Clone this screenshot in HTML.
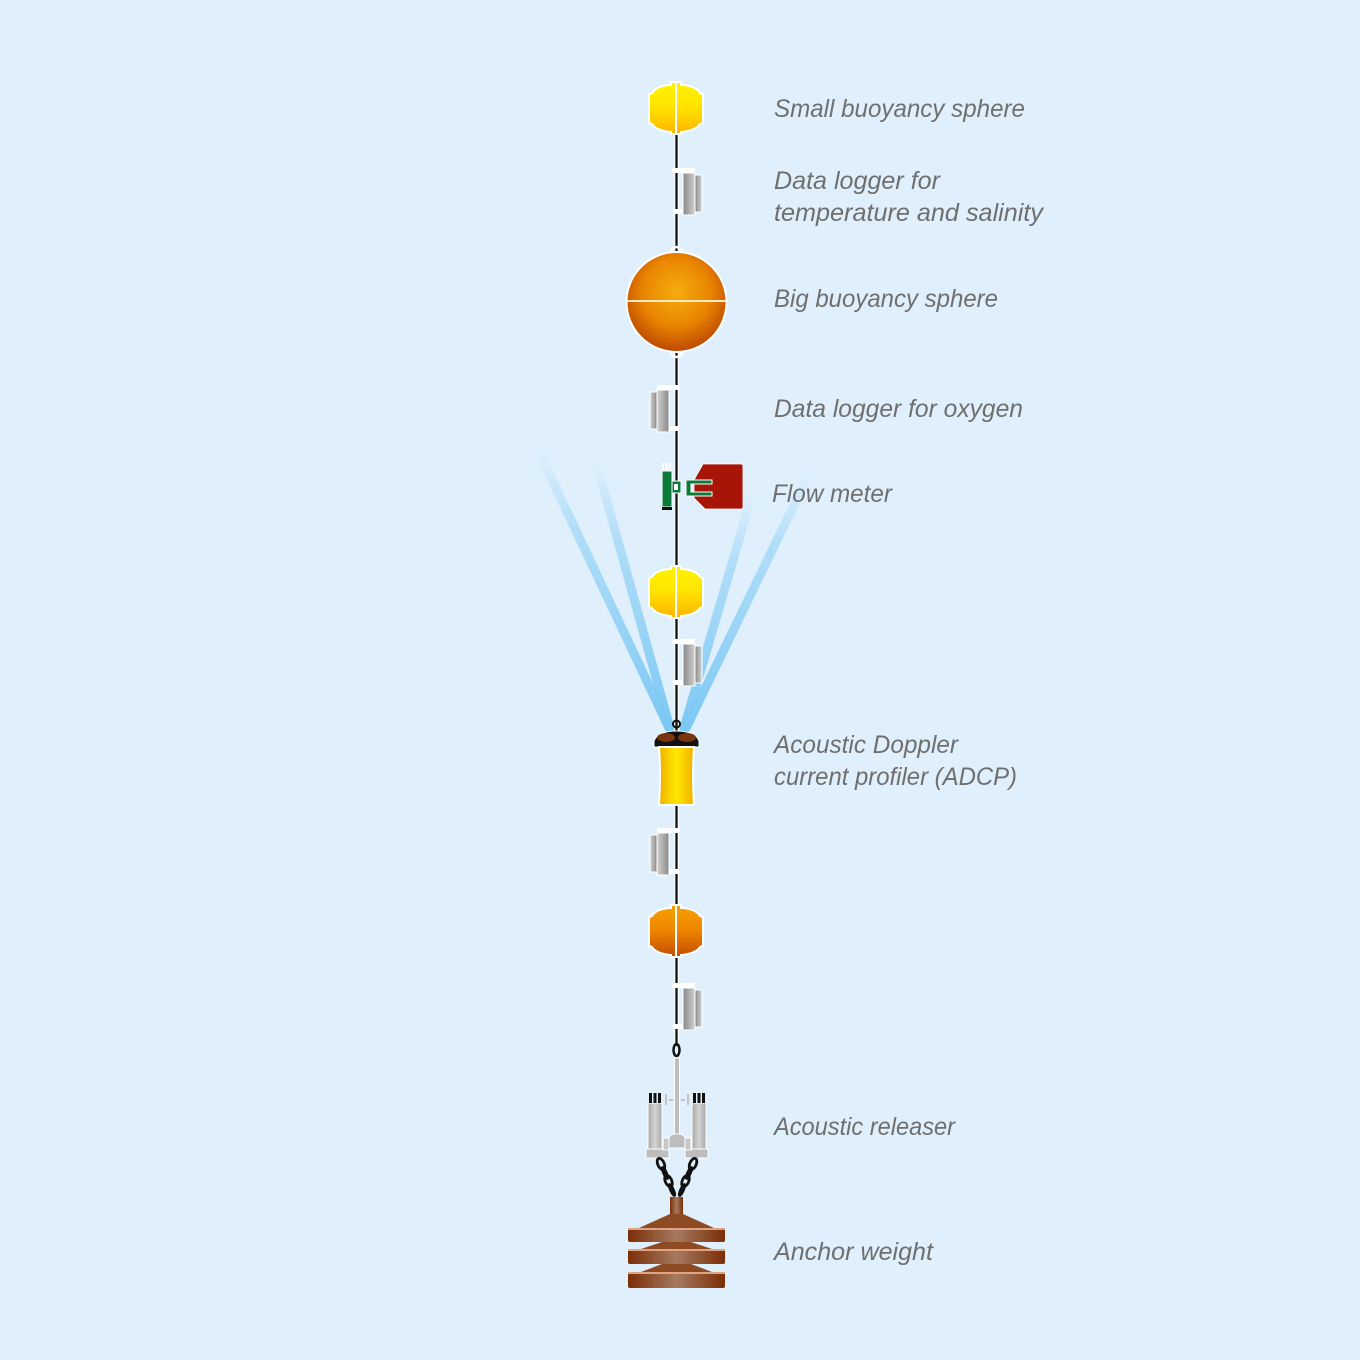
<!DOCTYPE html>
<html>
<head>
<meta charset="utf-8">
<style>
html,body{margin:0;padding:0;background:#dff0fc;}
svg{display:block;}
</style>
</head>
<body>
<svg width="1360" height="1360" viewBox="0 0 1360 1360" xmlns="http://www.w3.org/2000/svg">
<defs>
  <linearGradient id="yel" x1="0" y1="0" x2="0" y2="1">
    <stop offset="0" stop-color="#fff200"/>
    <stop offset="0.45" stop-color="#ffe600"/>
    <stop offset="1" stop-color="#ffb400"/>
  </linearGradient>
  <linearGradient id="org" x1="0" y1="0" x2="0" y2="1">
    <stop offset="0" stop-color="#f7a200"/>
    <stop offset="0.5" stop-color="#ee8400"/>
    <stop offset="1" stop-color="#c24c00"/>
  </linearGradient>
  <radialGradient id="big" cx="0.5" cy="0.4" r="0.62">
    <stop offset="0" stop-color="#f6ac10"/>
    <stop offset="0.55" stop-color="#e98400"/>
    <stop offset="1" stop-color="#b84300"/>
  </radialGradient>
  <linearGradient id="grayc" x1="0" y1="0" x2="1" y2="0">
    <stop offset="0" stop-color="#888888"/>
    <stop offset="1" stop-color="#d2d2d2"/>
  </linearGradient>
  <linearGradient id="adcp" x1="0" y1="0" x2="1" y2="0">
    <stop offset="0" stop-color="#f0b000"/>
    <stop offset="0.5" stop-color="#ffe800"/>
    <stop offset="1" stop-color="#f0b000"/>
  </linearGradient>
  <linearGradient id="brown" x1="0" y1="0" x2="1" y2="0">
    <stop offset="0" stop-color="#7b2e06"/>
    <stop offset="0.5" stop-color="#a57a60"/>
    <stop offset="1" stop-color="#7b2e06"/>
  </linearGradient>
  <linearGradient id="relg" x1="0" y1="0" x2="1" y2="0">
    <stop offset="0" stop-color="#a8a8a8"/>
    <stop offset="0.5" stop-color="#d4d4d4"/>
    <stop offset="1" stop-color="#a8a8a8"/>
  </linearGradient>
  <linearGradient id="b1" gradientUnits="userSpaceOnUse" x1="538" y1="450" x2="669" y2="728">
    <stop offset="0" stop-color="#8fd0f5" stop-opacity="0"/>
    <stop offset="0.3" stop-color="#8fd0f5" stop-opacity="0.6"/>
    <stop offset="1" stop-color="#7cc8f4" stop-opacity="1"/>
  </linearGradient>
  <linearGradient id="b2" gradientUnits="userSpaceOnUse" x1="596" y1="462" x2="670" y2="728">
    <stop offset="0" stop-color="#8fd0f5" stop-opacity="0"/>
    <stop offset="0.3" stop-color="#8fd0f5" stop-opacity="0.6"/>
    <stop offset="1" stop-color="#7cc8f4" stop-opacity="1"/>
  </linearGradient>
  <linearGradient id="b3" gradientUnits="userSpaceOnUse" x1="752" y1="495" x2="684" y2="728">
    <stop offset="0" stop-color="#8fd0f5" stop-opacity="0"/>
    <stop offset="0.3" stop-color="#8fd0f5" stop-opacity="0.6"/>
    <stop offset="1" stop-color="#7cc8f4" stop-opacity="1"/>
  </linearGradient>
  <linearGradient id="b4" gradientUnits="userSpaceOnUse" x1="810" y1="472" x2="686" y2="728">
    <stop offset="0" stop-color="#8fd0f5" stop-opacity="0"/>
    <stop offset="0.3" stop-color="#8fd0f5" stop-opacity="0.6"/>
    <stop offset="1" stop-color="#7cc8f4" stop-opacity="1"/>
  </linearGradient>
  <path id="sph" d="M-5,0 L5,0 L5,3 C15,3 22,7 24,11 L27,12 L27,41 L24,42 C22,46 15,49 5,50 L5,52 L-5,52 L-5,50 C-15,49 -22,46 -24,42 L-27,41 L-27,12 L-24,11 C-22,7 -15,3 -5,3 Z"/>
  <g id="logR">
    <rect x="7" y="5" width="12" height="42" fill="url(#grayc)" stroke="#ffffff" stroke-width="1"/>
    <rect x="19" y="7" width="7" height="37" fill="url(#grayc)" stroke="#ffffff" stroke-width="1"/>
    <rect x="-4" y="0" width="23" height="5" fill="#ffffff"/>
    <rect x="-3" y="41" width="10" height="5" fill="#ffffff"/>
  </g>
</defs>

<rect width="1360" height="1360" fill="#dff0fc"/>

<!-- ADCP beams -->
<g stroke-linecap="round" fill="none">
  <line x1="538" y1="450" x2="669" y2="728" stroke="url(#b1)" stroke-width="9"/>
  <line x1="596" y1="462" x2="670" y2="728" stroke="url(#b2)" stroke-width="9"/>
  <line x1="752" y1="495" x2="684" y2="728" stroke="url(#b3)" stroke-width="9"/>
  <line x1="810" y1="472" x2="686" y2="728" stroke="url(#b4)" stroke-width="9"/>
</g>

<!-- main mooring line -->
<line x1="676.5" y1="134" x2="676.5" y2="1046" stroke="#ffffff" stroke-width="4.5"/>
<line x1="676.5" y1="134" x2="676.5" y2="1046" stroke="#111111" stroke-width="2.3"/>

<!-- small yellow sphere 1 -->
<g transform="translate(676,82)">
  <use href="#sph" fill="url(#yel)" stroke="#ffffff" stroke-width="2"/>
  <line x1="0" y1="0" x2="0" y2="52" stroke="#ffffff" stroke-width="2"/>
</g>

<!-- logger 1 -->
<g transform="translate(676,168)"><use href="#logR"/></g>

<!-- big sphere -->
<path d="M671,253 A5.5,6 0 0 1 682,253" fill="none" stroke="#ffffff" stroke-width="2.5"/>
<path d="M671,351 A5.5,6 0 0 0 682,351" fill="none" stroke="#ffffff" stroke-width="2.5"/>
<circle cx="676.5" cy="302" r="50" fill="url(#big)" stroke="#ffffff" stroke-width="2"/>
<line x1="627" y1="301" x2="726" y2="301" stroke="#ffe9c0" stroke-width="2"/>

<!-- logger oxygen (left) -->
<g transform="translate(676,385) scale(-1,1)"><use href="#logR"/></g>

<!-- flow meter -->
<g>
  <rect x="662" y="463" width="2" height="8" fill="#ffffff"/>
  <rect x="665.5" y="463" width="2" height="8" fill="#ffffff"/>
  <rect x="669" y="463" width="2" height="8" fill="#ffffff"/>
  <rect x="662" y="471" width="10" height="36" fill="#0c7a3a" stroke="#ffffff" stroke-width="1"/>
  <rect x="662" y="507" width="10" height="3" fill="#111111"/>
  <path d="M703,464 L741,464 Q743,464 743,466 L743,507 Q743,509 741,509 L705,509 L694,498 L694,480 Z" fill="#a61508" stroke="#ffffff" stroke-width="0.8"/>
  <rect x="672" y="481" width="9" height="12" fill="#0c7a3a" stroke="#ffffff" stroke-width="1"/>
  <rect x="674" y="484" width="4" height="6" fill="#ffffff"/>
  <path d="M712,480 L686,480 L686,496 L712,496 L712,492 L691,492 L691,484 L712,484 Z" fill="#0c7a3a" stroke="#ffffff" stroke-width="1"/>
</g>

<!-- small yellow sphere 2 -->
<g transform="translate(676,566)">
  <use href="#sph" fill="url(#yel)" stroke="#ffffff" stroke-width="2"/>
  <line x1="0" y1="0" x2="0" y2="52" stroke="#ffffff" stroke-width="2"/>
</g>

<!-- logger 3 -->
<g transform="translate(676,639)"><use href="#logR"/></g>

<!-- ADCP -->
<g>
  <circle cx="676.5" cy="724" r="3.5" fill="none" stroke="#111111" stroke-width="2"/>
  <path d="M654,747 L654,741 C656,735 664,731 676.5,731 C689,731 697,735 699,741 L699,747 Z" fill="#111111" stroke="#ffffff" stroke-width="1"/>
  <ellipse cx="666" cy="737.5" rx="9" ry="4.5" fill="#7a3410"/>
  <ellipse cx="687" cy="737.5" rx="9" ry="4.5" fill="#7a3410"/>
  <path d="M659,747 L694,747 Q692,776 694,805 L659,805 Q661,776 659,747 Z" fill="url(#adcp)" stroke="#ffffff" stroke-width="2"/>
</g>

<!-- logger 4 (left) -->
<g transform="translate(676,828) scale(-1,1)"><use href="#logR"/></g>

<!-- orange small sphere -->
<g transform="translate(676,905)">
  <use href="#sph" fill="url(#org)" stroke="#ffffff" stroke-width="2"/>
  <line x1="0" y1="0" x2="0" y2="52" stroke="#ffffff" stroke-width="2"/>
</g>

<!-- logger 5 -->
<g transform="translate(676,983)"><use href="#logR"/></g>

<!-- shackle -->
<ellipse cx="676.5" cy="1050" rx="3" ry="6" fill="none" stroke="#111111" stroke-width="2.5"/>

<!-- acoustic releaser -->
<g stroke="#ffffff" stroke-width="1">
  <rect x="674.5" y="1058" width="5" height="80" fill="#bdbdbd"/>
  <polygon points="673,1134 681,1134 690,1141 690,1148 663,1148 663,1141" fill="#bdbdbd"/>
  <rect x="648" y="1103" width="14" height="48" fill="url(#relg)"/>
  <rect x="692" y="1103" width="14" height="48" fill="url(#relg)"/>
  <rect x="646" y="1149" width="23" height="9" fill="#bdbdbd"/>
  <rect x="685" y="1149" width="23" height="9" fill="#bdbdbd"/>
  <rect x="663" y="1138" width="6" height="12" fill="#c8c8c8"/>
  <rect x="685" y="1138" width="6" height="12" fill="#c8c8c8"/>
</g>
<g fill="#111111">
  <rect x="649" y="1093" width="3" height="10"/>
  <rect x="653.5" y="1093" width="3" height="10"/>
  <rect x="658" y="1093" width="3" height="10"/>
  <rect x="693" y="1093" width="3" height="10"/>
  <rect x="697.5" y="1093" width="3" height="10"/>
  <rect x="702" y="1093" width="3" height="10"/>
</g>
<g fill="#c4c4c4">
  <rect x="665" y="1094" width="2" height="11"/>
  <rect x="687" y="1094" width="2" height="11"/>
  <rect x="669" y="1099" width="4" height="2"/>
  <rect x="681" y="1099" width="4" height="2"/>
</g>

<!-- chains -->
<g fill="none" stroke="#111111" stroke-width="2.8">
  <ellipse cx="661" cy="1164" rx="6" ry="3.2" transform="rotate(66 661 1164)"/>
  <ellipse cx="665" cy="1173" rx="6" ry="1.3" transform="rotate(66 665 1173)"/>
  <ellipse cx="668.5" cy="1181" rx="6" ry="3.2" transform="rotate(66 668.5 1181)"/>
  <ellipse cx="672" cy="1190" rx="6" ry="1.3" transform="rotate(66 672 1190)"/>
  <ellipse cx="693" cy="1164" rx="6" ry="3.2" transform="rotate(114 693 1164)"/>
  <ellipse cx="689" cy="1173" rx="6" ry="1.3" transform="rotate(114 689 1173)"/>
  <ellipse cx="685.5" cy="1181" rx="6" ry="3.2" transform="rotate(114 685.5 1181)"/>
  <ellipse cx="682" cy="1190" rx="6" ry="1.3" transform="rotate(114 682 1190)"/>
</g>

<!-- anchor weight -->
<g>
  <rect x="670" y="1197" width="13" height="22" fill="url(#brown)"/>
  <polygon points="670,1214 683,1214 714,1228 639,1228" fill="#8e4a22"/>
  <rect x="628" y="1228" width="97" height="14" rx="2" fill="url(#brown)"/>
  <rect x="628" y="1228" width="97" height="2" fill="#e0a485"/>
  <polygon points="662,1242 691,1242 712,1249 641,1249" fill="#8e4a22"/>
  <rect x="628" y="1249" width="97" height="15" rx="2" fill="url(#brown)"/>
  <rect x="628" y="1249" width="97" height="2" fill="#e0a485"/>
  <polygon points="662,1264 691,1264 712,1272 641,1272" fill="#8e4a22"/>
  <rect x="628" y="1272" width="97" height="16" rx="2" fill="url(#brown)"/>
  <rect x="628" y="1272" width="97" height="2" fill="#e0a485"/>
</g>

<!-- labels -->
<g font-family="'Liberation Sans', 'DejaVu Sans', sans-serif" font-style="italic" font-size="25" fill="#6f6f6f">
  <text x="774" y="117" textLength="251" lengthAdjust="spacingAndGlyphs">Small buoyancy sphere</text>
  <text x="774" y="189" textLength="166" lengthAdjust="spacingAndGlyphs">Data logger for</text>
  <text x="774" y="221" textLength="269" lengthAdjust="spacingAndGlyphs">temperature and salinity</text>
  <text x="774" y="307" textLength="224" lengthAdjust="spacingAndGlyphs">Big buoyancy sphere</text>
  <text x="774" y="417" textLength="249" lengthAdjust="spacingAndGlyphs">Data logger for oxygen</text>
  <text x="772" y="502" textLength="120" lengthAdjust="spacingAndGlyphs">Flow meter</text>
  <text x="774" y="753" textLength="184" lengthAdjust="spacingAndGlyphs">Acoustic Doppler</text>
  <text x="774" y="785" textLength="243" lengthAdjust="spacingAndGlyphs">current profiler (ADCP)</text>
  <text x="774" y="1135" textLength="181" lengthAdjust="spacingAndGlyphs">Acoustic releaser</text>
  <text x="774" y="1260" textLength="159" lengthAdjust="spacingAndGlyphs">Anchor weight</text>
</g>
</svg>
</body>
</html>
